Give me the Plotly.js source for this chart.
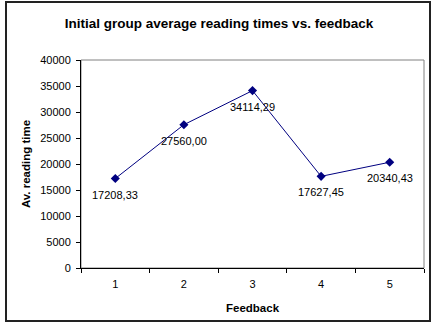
<!DOCTYPE html>
<html>
<head>
<meta charset="utf-8">
<script src="https://cdn.plot.ly/plotly-3.0.1.min.js"></script>
<style>
  html, body { margin: 0; padding: 0; background: #fff; }
  #wrap { position: relative; width: 438px; height: 326px; }
  #chart { width: 438px; height: 326px; }
  #frame { position: absolute; left: 5px; top: 1px; width: 426px; height: 321px;
           border: 2px solid #222; pointer-events: none; box-sizing: border-box; }
</style>
</head>
<body>
<div id="wrap">
  <div id="chart"></div>
  <div id="frame"></div>
</div>
<script>
const feedback = ['1', '2', '3', '4', '5'];
const avgReadingTime = [17208.33, 27560.00, 34114.29, 17627.45, 20340.43];
const yTicks = [0, 5000, 10000, 15000, 20000, 25000, 30000, 35000, 40000];

const labels = avgReadingTime.map(v => v.toFixed(2).replace('.', ','));
const font = 'Liberation Sans, Arial, sans-serif';

const trace = {
  x: feedback,
  y: avgReadingTime,
  type: 'scatter',
  mode: 'lines+markers',
  line: { color: '#000080', width: 1 },
  marker: { symbol: 'diamond', size: 7, color: '#000080' },
  hoverinfo: 'skip'
};

// category axis: annotation x given as the category's serial index
const annotations = feedback.map((f, i) => ({
  x: i, y: avgReadingTime[i], xref: 'x', yref: 'y',
  text: labels[i], showarrow: false,
  yshift: -16, xanchor: 'center', yanchor: 'middle',
  font: { family: font, size: 11, color: '#000' }
}));

const layout = {
  width: 438, height: 326,
  margin: { l: 81, r: 14, t: 60, b: 58 },
  paper_bgcolor: '#fff', plot_bgcolor: '#fff',
  showlegend: false,
  title: {
    text: '<b>Initial group average reading times vs. feedback</b>',
    font: { family: font, size: 13.5, color: '#000' },
    x: 0.5, xanchor: 'center', y: 0.928, yanchor: 'middle'
  },
  xaxis: {
    type: 'category',
    categoryarray: feedback, categoryorder: 'array',
    range: [-0.5, feedback.length - 0.5], autorange: false,
    tickson: 'boundaries',
    ticks: 'outside', ticklen: 4, tickcolor: '#000', tickwidth: 1,
    ticklabelstandoff: 6,
    showline: true, linecolor: '#000', linewidth: 1,
    showgrid: false, zeroline: false,
    tickfont: { family: font, size: 11, color: '#000' },
    title: { text: '<b>Feedback</b>', font: { family: font, size: 11.5, color: '#000' }, standoff: 14 }
  },
  yaxis: {
    range: [0, 40000], autorange: false,
    tickvals: yTicks,
    ticktext: yTicks.map(String),
    ticks: 'outside', ticklen: 4, tickcolor: '#000', tickwidth: 1,
    ticklabelstandoff: 3,
    showline: true, linecolor: '#000', linewidth: 1,
    showgrid: false, zeroline: false,
    tickfont: { family: font, size: 11, color: '#000' },
    title: { text: '<b>Av. reading time</b>', font: { family: font, size: 11.5, color: '#000' }, standoff: 7 }
  },
  annotations: annotations,
  shapes: [{
    type: 'rect', xref: 'paper', yref: 'paper', x0: 0, x1: 1, y0: 0, y1: 1,
    line: { color: '#808080', width: 1 }, layer: 'below'
  }]
};

Plotly.newPlot('chart', [trace], layout, { displayModeBar: false, staticPlot: true });
</script>
</body>
</html>
